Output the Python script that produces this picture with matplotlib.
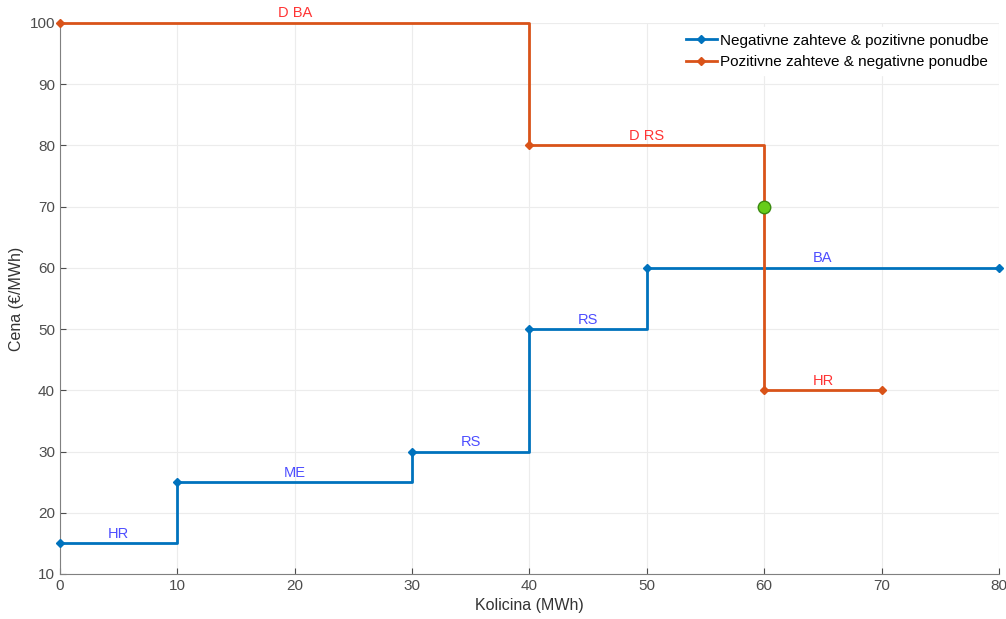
import matplotlib.pyplot as plt

plt.rcParams['font.family'] = ['Liberation Sans', 'DejaVu Sans']

# podatki
neg_x = [0, 10, 30, 40, 50, 80]
neg_y = [15, 25, 30, 50, 60, 60]
poz_x = [0, 40, 60, 70]
poz_y = [100, 80, 40, 40]

neg_labels = ['HR', 'ME', 'RS', 'RS', 'BA']
neg_lab_x = [5, 20, 35, 45, 65]
neg_lab_y = [15, 25, 30, 50, 60]
poz_labels = ['D BA', 'D RS', 'HR']
poz_lab_x = [20, 50, 65]
poz_lab_y = [100, 80, 40]

presek_x = [60]
presek_y = [70]

fig = plt.figure(figsize=(10.06, 6.19), dpi=100)
ax = fig.add_axes([0.0596, 0.0727, 0.9334, 0.8903])

ax.step(neg_x, neg_y, where='post', color='#0072BD', lw=2, marker='D', ms=4,
        label='Negativne zahteve & pozitivne ponudbe', zorder=3, clip_on=False)
ax.step(poz_x, poz_y, where='post', color='#D95319', lw=2, marker='D', ms=4,
        label='Pozitivne zahteve & negativne ponudbe', zorder=3, clip_on=False)
ax.plot(presek_x, presek_y, 'o', color='#66cc1a', mec='#3a8a10', ms=9, zorder=4)

for t, x, y in zip(neg_labels, neg_lab_x, neg_lab_y):
    ax.text(x, y + 0.4, t, color='#4d4dff', fontsize=10.5, ha='center', va='bottom')
for t, x, y in zip(poz_labels, poz_lab_x, poz_lab_y):
    ax.text(x, y + 0.4, t, color='#ff3333', fontsize=10.5, ha='center', va='bottom')

ax.set_xlim(0, 80)
ax.set_ylim(10, 100)
ax.set_xticks(range(0, 81, 10))
ax.set_yticks(range(10, 101, 10))
ax.grid(True, color='#ececec', lw=0.8)
ax.set_axisbelow(True)
for s in ['top', 'right']:
    ax.spines[s].set_visible(False)
for s in ['left', 'bottom']:
    ax.spines[s].set_color('#808080')
ax.tick_params(colors='#4d4d4d', labelsize=11, length=4, direction='in')
ax.set_xlabel('Kolicina (MWh)', fontsize=11.5, color='#333333')
ax.set_ylabel('Cena (€/MWh)', fontsize=11.5, color='#333333')

leg = ax.legend(loc='upper right', fontsize=11, frameon=True, handlelength=2,
                handletextpad=0.2, borderaxespad=0.3)
leg.get_frame().set_edgecolor('white')
leg.get_frame().set_alpha(1)

fig.savefig('out.png', dpi=100)
